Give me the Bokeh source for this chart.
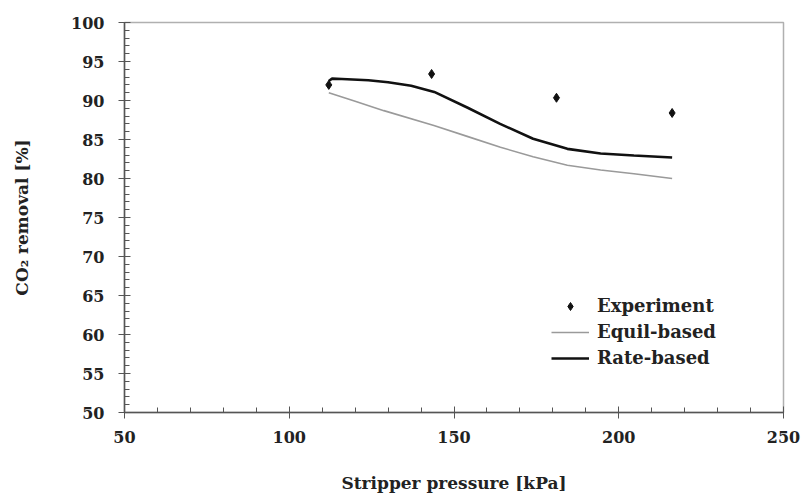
from bokeh.plotting import figure
from bokeh.models import FixedTicker, Legend, LegendItem, Range1d
from bokeh.embed import file_html
from bokeh.resources import INLINE

# Data
exp_x = [112, 143.2, 181.1, 216.2]
exp_y = [92.0, 93.4, 90.35, 88.4]

equil_x = [112, 120, 128.7, 143.9, 154, 164.1, 174, 184.4, 194.5, 204.6, 216.2]
equil_y = [91.0, 89.9, 88.7, 86.8, 85.4, 84.0, 82.8, 81.7, 81.1, 80.6, 80.0]

rate_x = [112, 113, 116, 124, 130, 137, 144, 154, 164, 174, 184.4, 194.5, 204.6, 216.2]
rate_y = [92.5, 92.8, 92.75, 92.6, 92.35, 91.9, 91.1, 89.1, 87.0, 85.1, 83.8, 83.2, 82.95, 82.7]

x_major = [50, 100, 150, 200, 250]
x_minor = list(range(50, 251, 10))
y_major = list(range(50, 101, 5))
y_minor = list(range(50, 101, 1))

FONT = "DejaVu Serif"

p = figure(width=806, height=495, output_backend="svg", toolbar_location=None,
           x_range=Range1d(50, 250), y_range=Range1d(50, 100),
           min_border_left=124, min_border_right=23, min_border_top=22, min_border_bottom=83)
p.xgrid.visible = False
p.ygrid.visible = False
p.outline_line_color = "#b0b0b0"
p.outline_line_width = 1.5
p.background_fill_color = "white"
p.border_fill_color = "white"

r_eq = p.line(equil_x, equil_y, line_color="#9a9a9a", line_width=1.6)
r_rate = p.line(rate_x, rate_y, line_color="#111111", line_width=2.6)
r_exp = p.scatter(exp_x, exp_y, marker="diamond", size=9,
                  fill_color="#111111", line_color="#111111")

for ax in (p.xaxis[0], p.yaxis[0]):
    ax.axis_line_color = "#555555"
    ax.axis_line_width = 1.5
    ax.major_tick_line_color = "#555555"
    ax.minor_tick_line_color = "#555555"
    ax.major_tick_in = 6
    ax.major_tick_out = 6
    ax.minor_tick_in = 5
    ax.minor_tick_out = 0
    ax.major_label_text_font = FONT
    ax.major_label_text_font_style = "bold"
    ax.major_label_text_font_size = "16px"
    ax.major_label_text_color = "#222222"
    ax.axis_label_text_font = FONT
    ax.axis_label_text_font_style = "bold"
    ax.axis_label_text_font_size = "17px"
    ax.axis_label_text_color = "#222222"

p.xaxis[0].ticker = FixedTicker(ticks=x_major, minor_ticks=x_minor)
p.yaxis[0].ticker = FixedTicker(ticks=y_major, minor_ticks=y_minor)
p.xaxis[0].axis_label = "Stripper pressure [kPa]"
p.yaxis[0].axis_label = "CO₂ removal [%]"
p.xaxis[0].major_label_standoff = 12
p.yaxis[0].major_label_standoff = 14
p.xaxis[0].axis_label_standoff = 27
p.yaxis[0].axis_label_standoff = 36

legend = Legend(items=[
    LegendItem(label="Experiment", renderers=[r_exp]),
    LegendItem(label="Equil-based", renderers=[r_eq]),
    LegendItem(label="Rate-based", renderers=[r_rate]),
], location=(427, 44))
legend.border_line_color = None
legend.background_fill_alpha = 0
legend.label_text_font = FONT
legend.label_text_font_style = "bold"
legend.label_text_font_size = "18px"
legend.label_text_color = "#222222"
legend.glyph_width = 38
legend.glyph_height = 20
legend.label_height = 20
legend.spacing = 5
legend.padding = 4
legend.label_standoff = 8
p.add_layout(legend)

open("out.html", "w").write(file_html(p, INLINE))
